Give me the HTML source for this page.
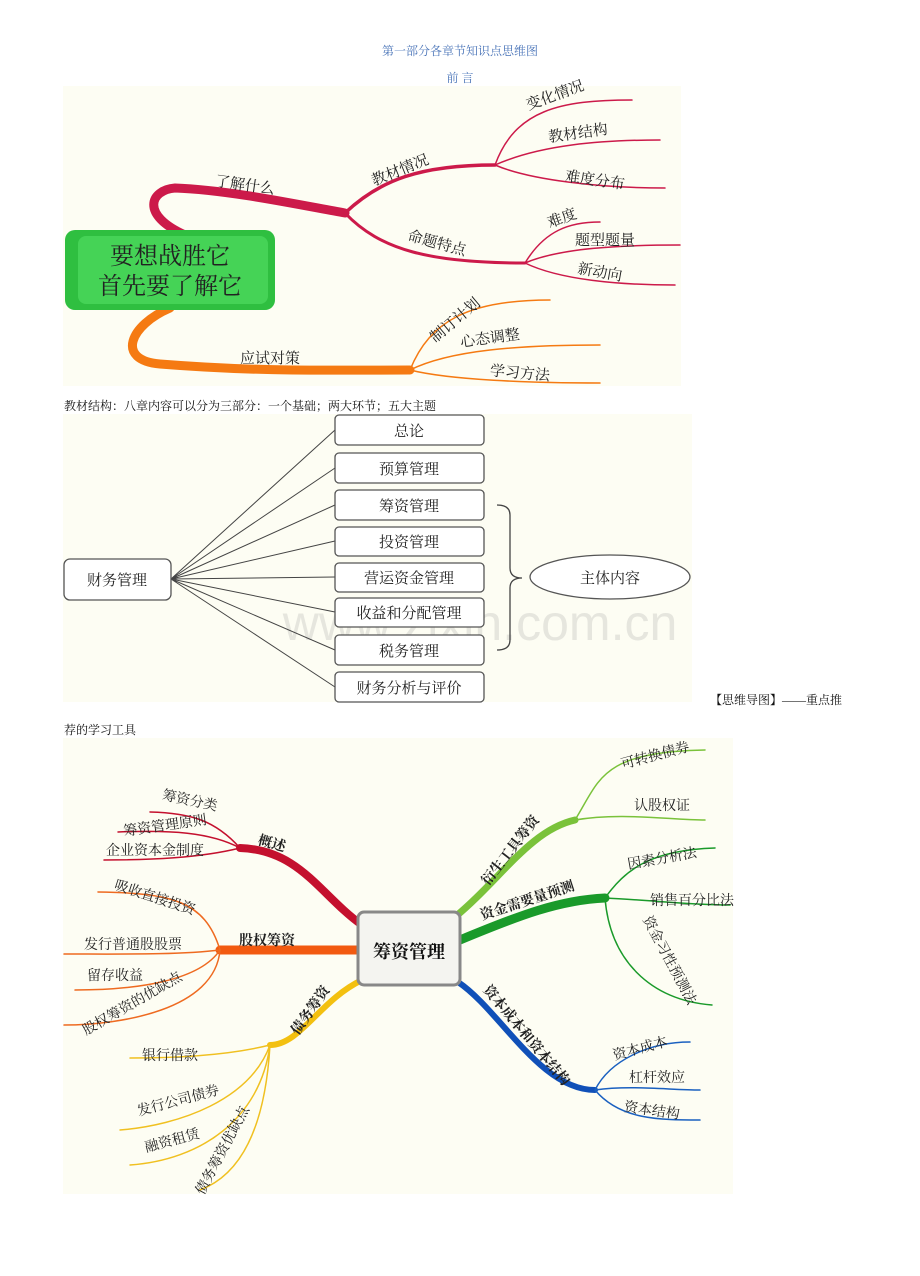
<!DOCTYPE html>
<html><head><meta charset="utf-8"><style>
body{margin:0;background:#fff;}
svg{display:block;}
text{font-family:"Liberation Serif","Noto Serif CJK SC","Noto Sans CJK SC",serif;}
.s{font-family:"Liberation Sans","Noto Sans CJK SC",sans-serif;}
</style></head><body>
<svg width="920" height="1276" viewBox="0 0 920 1276" xmlns="http://www.w3.org/2000/svg">
<text x="460" y="55" font-size="12" fill="#4a74b8" text-anchor="middle">第一部分各章节知识点思维图</text>
<text x="460" y="82" font-size="12" fill="#4a74b8" text-anchor="middle">前 言</text>

<!-- Image 1 -->
<rect x="63" y="86" width="618" height="300" fill="#fdfdf3"/>
<g fill="none" stroke-linecap="round">
<path d="M185,235 C140,215 150,190 175,188 C230,190 300,205 345,213" stroke="#cc1a4a" stroke-width="9"/>
<path d="M345,213 C380,180 420,165 495,165" stroke="#cc1a4a" stroke-width="3.5"/>
<path d="M345,213 C380,250 430,263 525,263" stroke="#cc1a4a" stroke-width="3"/>
<path d="M495,165 C515,110 560,100 632,100 M495,165 C540,145 600,140 660,140 M495,165 C530,180 600,188 665,188" stroke="#cc1a4a" stroke-width="1.5"/>
<path d="M525,263 C545,230 570,222 600,222 M525,263 C560,248 620,245 680,245 M525,263 C560,280 620,285 675,285" stroke="#cc1a4a" stroke-width="1.5"/>
<path d="M170,308 C130,325 115,360 160,364 C260,372 330,370 410,370" stroke="#f57a12" stroke-width="9"/>
<path d="M410,370 C430,320 470,300 550,300 M410,370 C450,350 520,345 600,345 M410,370 C450,380 530,383 600,383" stroke="#f57a12" stroke-width="1.5"/>
</g>
<rect x="65" y="230" width="210" height="80" rx="10" fill="#2fbf40"/>
<rect x="78" y="236" width="190" height="68" rx="8" fill="#45d356"/>
<text x="170" y="264" font-size="24" text-anchor="middle" fill="#222">要想战胜它</text>
<text x="170" y="294" font-size="24" text-anchor="middle" fill="#222">首先要了解它</text>
<g font-size="15" fill="#222" class="s">
<text x="245" y="190" text-anchor="middle" transform="rotate(8 245 185)">了解什么</text>
<text x="400" y="175" text-anchor="middle" transform="rotate(-22 400 170)">教材情况</text>
<text x="437" y="248" text-anchor="middle" transform="rotate(15 437 243)">命题特点</text>
<text x="555" y="100" text-anchor="middle" transform="rotate(-20 555 95)">变化情况</text>
<text x="578" y="138" text-anchor="middle" transform="rotate(-8 578 133)">教材结构</text>
<text x="595" y="185" text-anchor="middle" transform="rotate(8 595 180)">难度分布</text>
<text x="562" y="223" text-anchor="middle" transform="rotate(-20 562 218)">难度</text>
<text x="605" y="245" text-anchor="middle">题型题量</text>
<text x="600" y="277" text-anchor="middle" transform="rotate(10 600 272)">新动向</text>
<text x="270" y="363" text-anchor="middle">应试对策</text>
<text x="455" y="325" text-anchor="middle" transform="rotate(-40 455 320)">制订计划</text>
<text x="490" y="343" text-anchor="middle" transform="rotate(-8 490 338)">心态调整</text>
<text x="520" y="378" text-anchor="middle" transform="rotate(5 520 373)">学习方法</text>
</g>

<text x="64" y="410" font-size="12" fill="#111">教材结构：八章内容可以分为三部分：一个基础；两大环节；五大主题</text>

<!-- Image 2 -->
<rect x="63" y="414" width="629" height="288" fill="#fdfdf3"/>
<text x="480" y="640" font-size="50" fill="#e6e6de" text-anchor="middle" class="s">www.zixin.com.cn</text>
<g stroke="#444" stroke-width="1" fill="none">
<path d="M171,579 L335,430 M171,579 L335,468 M171,579 L335,505 M171,579 L335,541 M171,579 L335,577 M171,579 L335,612 M171,579 L335,650 M171,579 L335,687"/>
<path d="M497,505 Q510,505 510,515 L510,568 Q510,578 522,578 Q510,578 510,588 L510,640 Q510,650 497,650" stroke-width="1.3"/>
</g>
<g fill="#fff" stroke="#555" stroke-width="1.3">
<rect x="64" y="559" width="107" height="41" rx="6"/>
<rect x="335" y="415" width="149" height="30" rx="4"/>
<rect x="335" y="453" width="149" height="30" rx="4"/>
<rect x="335" y="490" width="149" height="30" rx="4"/>
<rect x="335" y="527" width="149" height="29" rx="4"/>
<rect x="335" y="563" width="149" height="29" rx="4"/>
<rect x="335" y="598" width="149" height="29" rx="4"/>
<rect x="335" y="635" width="149" height="30" rx="4"/>
<rect x="335" y="672" width="149" height="30" rx="4"/>
<ellipse cx="610" cy="577" rx="80" ry="22"/>
</g>
<g font-size="15" fill="#222" text-anchor="middle" class="s">
<text x="117" y="585">财务管理</text>
<text x="409" y="436">总论</text>
<text x="409" y="474">预算管理</text>
<text x="409" y="511">筹资管理</text>
<text x="409" y="547">投资管理</text>
<text x="409" y="583">营运资金管理</text>
<text x="409" y="618">收益和分配管理</text>
<text x="409" y="656">税务管理</text>
<text x="409" y="693">财务分析与评价</text>
<text x="610" y="583">主体内容</text>
</g>
<text x="842" y="704" font-size="12" fill="#111" text-anchor="end">【思维导图】——重点推</text>
<text x="64" y="734" font-size="12" fill="#111">荐的学习工具</text>

<!-- Image 3 -->
<rect x="63" y="738" width="670" height="456" fill="#fdfdf3"/>
<g fill="none" stroke-linecap="round">
<path d="M362,925 C320,895 300,850 240,848" stroke="#c4102e" stroke-width="8"/>
<path d="M240,848 C215,820 190,813 150,812 M240,848 C210,832 170,830 118,832 M240,848 C200,858 150,860 104,860" stroke="#c4102e" stroke-width="1.5"/>
<path d="M358,950 L220,950" stroke="#f25a10" stroke-width="9"/>
<path d="M220,950 C205,900 170,893 98,892 M220,950 C180,955 120,954 64,954 M220,950 C200,980 140,990 75,990 M220,950 C215,1010 120,1025 64,1025" stroke="#ee6a20" stroke-width="1.5"/>
<path d="M362,980 C320,1000 300,1045 270,1045" stroke="#f3c010" stroke-width="6"/>
<path d="M270,1045 C230,1055 180,1058 130,1058 M270,1045 C250,1100 180,1125 120,1130 M270,1045 C260,1120 200,1160 130,1165 M270,1045 C265,1130 240,1175 200,1190" stroke="#f0c020" stroke-width="1.5"/>
<path d="M455,917 C500,880 530,830 575,820" stroke="#7ac23a" stroke-width="7"/>
<path d="M575,820 C600,780 600,752 705,750 M575,820 C620,812 670,820 705,820" stroke="#7ac23a" stroke-width="1.5"/>
<path d="M460,940 C520,915 560,900 605,898" stroke="#1a9a2a" stroke-width="9"/>
<path d="M605,898 C625,870 650,850 715,848 M605,898 C650,900 690,905 730,905 M605,898 C610,960 650,1000 712,1005" stroke="#1a9a2a" stroke-width="1.5"/>
<path d="M458,982 C500,1010 540,1090 595,1090" stroke="#1050b8" stroke-width="6"/>
<path d="M595,1090 C610,1060 650,1042 690,1042 M595,1090 C630,1085 670,1090 700,1090 M595,1090 C620,1120 660,1120 700,1120" stroke="#1a60c0" stroke-width="1.5"/>
</g>
<rect x="358" y="912" width="102" height="73" rx="6" fill="#f4f4f0" stroke="#888" stroke-width="3"/>
<text x="409" y="958" font-size="18" font-weight="bold" text-anchor="middle" fill="#111">筹资管理</text>
<g font-size="14" fill="#222" text-anchor="middle">
<text x="272" y="848" font-weight="bold" transform="rotate(15 272 843)">概述</text>
<text x="190" y="805" transform="rotate(12 190 800)">筹资分类</text>
<text x="165" y="830" transform="rotate(-8 165 825)">筹资管理原则</text>
<text x="155" y="855">企业资本金制度</text>
<text x="267" y="945" font-weight="bold">股权筹资</text>
<text x="155" y="902" transform="rotate(18 155 897)">吸收直接投资</text>
<text x="133" y="949">发行普通股股票</text>
<text x="115" y="980">留存收益</text>
<text x="132" y="1008" transform="rotate(-30 132 1003)">股权筹资的优缺点</text>
<text x="310" y="1015" font-weight="bold" transform="rotate(-55 310 1010)">债务筹资</text>
<text x="170" y="1060">银行借款</text>
<text x="178" y="1105" transform="rotate(-15 178 1100)">发行公司债券</text>
<text x="172" y="1145" transform="rotate(-15 172 1140)">融资租赁</text>
<text x="222" y="1155" transform="rotate(-62 222 1150)">债务筹资优缺点</text>
<text x="510" y="855" font-weight="bold" transform="rotate(-52 510 850)">衍生工具筹资</text>
<text x="655" y="760" transform="rotate(-15 655 755)">可转换债券</text>
<text x="662" y="810">认股权证</text>
<text x="527" y="905" font-weight="bold" transform="rotate(-18 527 900)">资金需要量预测</text>
<text x="662" y="863" transform="rotate(-10 662 858)">因素分析法</text>
<text x="692" y="905">销售百分比法</text>
<text x="670" y="965" transform="rotate(62 670 960)">资金习性预测法</text>
<text x="527" y="1040" font-weight="bold" transform="rotate(50 527 1035)">资本成本和资本结构</text>
<text x="640" y="1053" transform="rotate(-15 640 1048)">资本成本</text>
<text x="657" y="1082">杠杆效应</text>
<text x="652" y="1115" transform="rotate(8 652 1110)">资本结构</text>
</g>
</svg>
</body></html>
